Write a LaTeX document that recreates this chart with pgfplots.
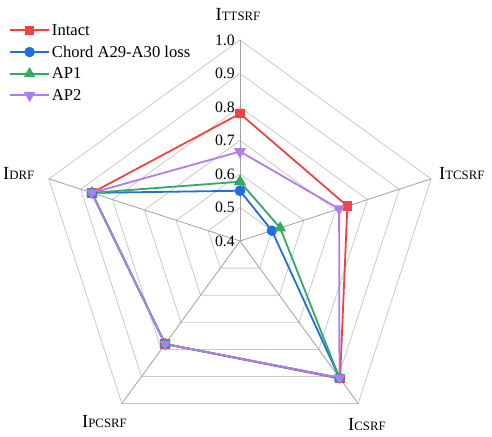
\documentclass[border=0pt]{standalone}
\usepackage{fontspec}
\setmainfont{Liberation Serif}
\usepackage{pgfplots}
\usepackage{pgfplotstable}
\pgfplotsset{compat=1.18}

\definecolor{cIntact}{HTML}{F04444}
\definecolor{cChord}{HTML}{1F6FE0}
\definecolor{cAPone}{HTML}{35A862}
\definecolor{cAPtwo}{HTML}{B07EE8}
\definecolor{ringgray}{HTML}{C8C8C8}
\definecolor{spokegray}{HTML}{A0A0A0}

\newcommand\lab[2]{{\fontsize{18.5}{20}\selectfont #1}{\fontsize{12.8}{14}\selectfont #2}}

% angle (deg) and index value; 0.4 sits at the centre
\pgfplotstableread{
a v
90 0.78
18 0.737
-54 0.908
-126 0.78
162 0.865
90 0.78
}\intact
\pgfplotstableread{
a v
90 0.55
18 0.50
-54 0.905
-126 0.78
162 0.865
90 0.55
}\chord
\pgfplotstableread{
a v
90 0.577
18 0.526
-54 0.905
-126 0.78
162 0.865
90 0.577
}\apone
\pgfplotstableread{
a v
90 0.667
18 0.711
-54 0.905
-126 0.78
162 0.865
90 0.667
}\aptwo

\begin{document}
\begin{tikzpicture}
\begin{axis}[
    hide axis,
    x=335pt, y=335pt,
    xmin=-0.7164, xmax=0.7522,
    ymin=-0.5821, ymax=0.7194,
    clip=false,
    legend style={at={(axis cs:-0.6985,0.6597)}, anchor=north west,
        draw=none, fill=none, font=\fontsize{16.6}{18}\selectfont,
        row sep=5pt},
    legend cell align=left,
    /tikz/every even column/.append style={column sep=1pt},
    legend image code/.code={
        \draw[#1] (0pt,0pt) -- (39pt,0pt);
        \draw[#1, only marks] plot coordinates {(19.5pt,0pt)};
    },
    every axis plot/.append style={line width=1.8pt},
]
% grid
\pgfplotsinvokeforeach{0.1,0.2,0.3,0.4,0.5,0.6}{
    \draw[ringgray, line width=0.8pt]
        (axis cs:{#1*cos(90)},{#1*sin(90)}) -- (axis cs:{#1*cos(18)},{#1*sin(18)})
        -- (axis cs:{#1*cos(-54)},{#1*sin(-54)}) -- (axis cs:{#1*cos(-126)},{#1*sin(-126)})
        -- (axis cs:{#1*cos(162)},{#1*sin(162)}) -- cycle;
}
\pgfplotsinvokeforeach{90,18,-54,-126,162}{
    \draw[spokegray, line width=0.8pt] (axis cs:0,0) -- (axis cs:{0.6*cos(#1)},{0.6*sin(#1)});
}
\pgfplotsinvokeforeach{0.4,0.5,0.6,0.7,0.8,0.9,1.0}{
    \node[anchor=east, inner sep=0pt, font=\fontsize{15.8}{17}\selectfont]
        at (axis cs:-0.015,{#1-0.4}) {#1};
}

\addplot[cIntact, mark=square*, mark size=3.9pt, mark options={solid}]
    table[x expr={(\thisrow{v}-0.4)*cos(\thisrow{a})}, y expr={(\thisrow{v}-0.4)*sin(\thisrow{a})}] {\intact};
\addlegendentry{Intact}
\addplot[cChord, mark=*, mark size=4.3pt]
    table[x expr={(\thisrow{v}-0.4)*cos(\thisrow{a})}, y expr={(\thisrow{v}-0.4)*sin(\thisrow{a})}] {\chord};
\addlegendentry{Chord A29-A30 loss}
\addplot[cAPone, mark=triangle*, mark size=5pt]
    table[x expr={(\thisrow{v}-0.4)*cos(\thisrow{a})}, y expr={(\thisrow{v}-0.4)*sin(\thisrow{a})}] {\apone};
\addlegendentry{AP1}
\addplot[cAPtwo, mark=triangle*, mark size=5pt, mark options={rotate=180}]
    table[x expr={(\thisrow{v}-0.4)*cos(\thisrow{a})}, y expr={(\thisrow{v}-0.4)*sin(\thisrow{a})}] {\aptwo};
\addlegendentry{AP2}

% axis names
\node[anchor=center] at (axis cs:-0.006,0.6746) {\lab{I}{TTSRF}};
\node[anchor=west, inner sep=0pt] at (axis cs:0.594,0.20) {\lab{I}{TCSRF}};
\node[anchor=center] at (axis cs:0.379,-0.549) {\lab{I}{CSRF}};
\node[anchor=center] at (axis cs:-0.4045,-0.540) {\lab{I}{PCSRF}};
\node[anchor=west, inner sep=0pt] at (axis cs:-0.7075,0.203) {\lab{I}{DRF}};

\coordinate (bl) at (axis cs:-0.7164,-0.5821);
\coordinate (tr) at (axis cs:0.7522,0.7194);
\end{axis}
\pgfresetboundingbox
\path (bl) rectangle (tr);
\end{tikzpicture}
\end{document}
